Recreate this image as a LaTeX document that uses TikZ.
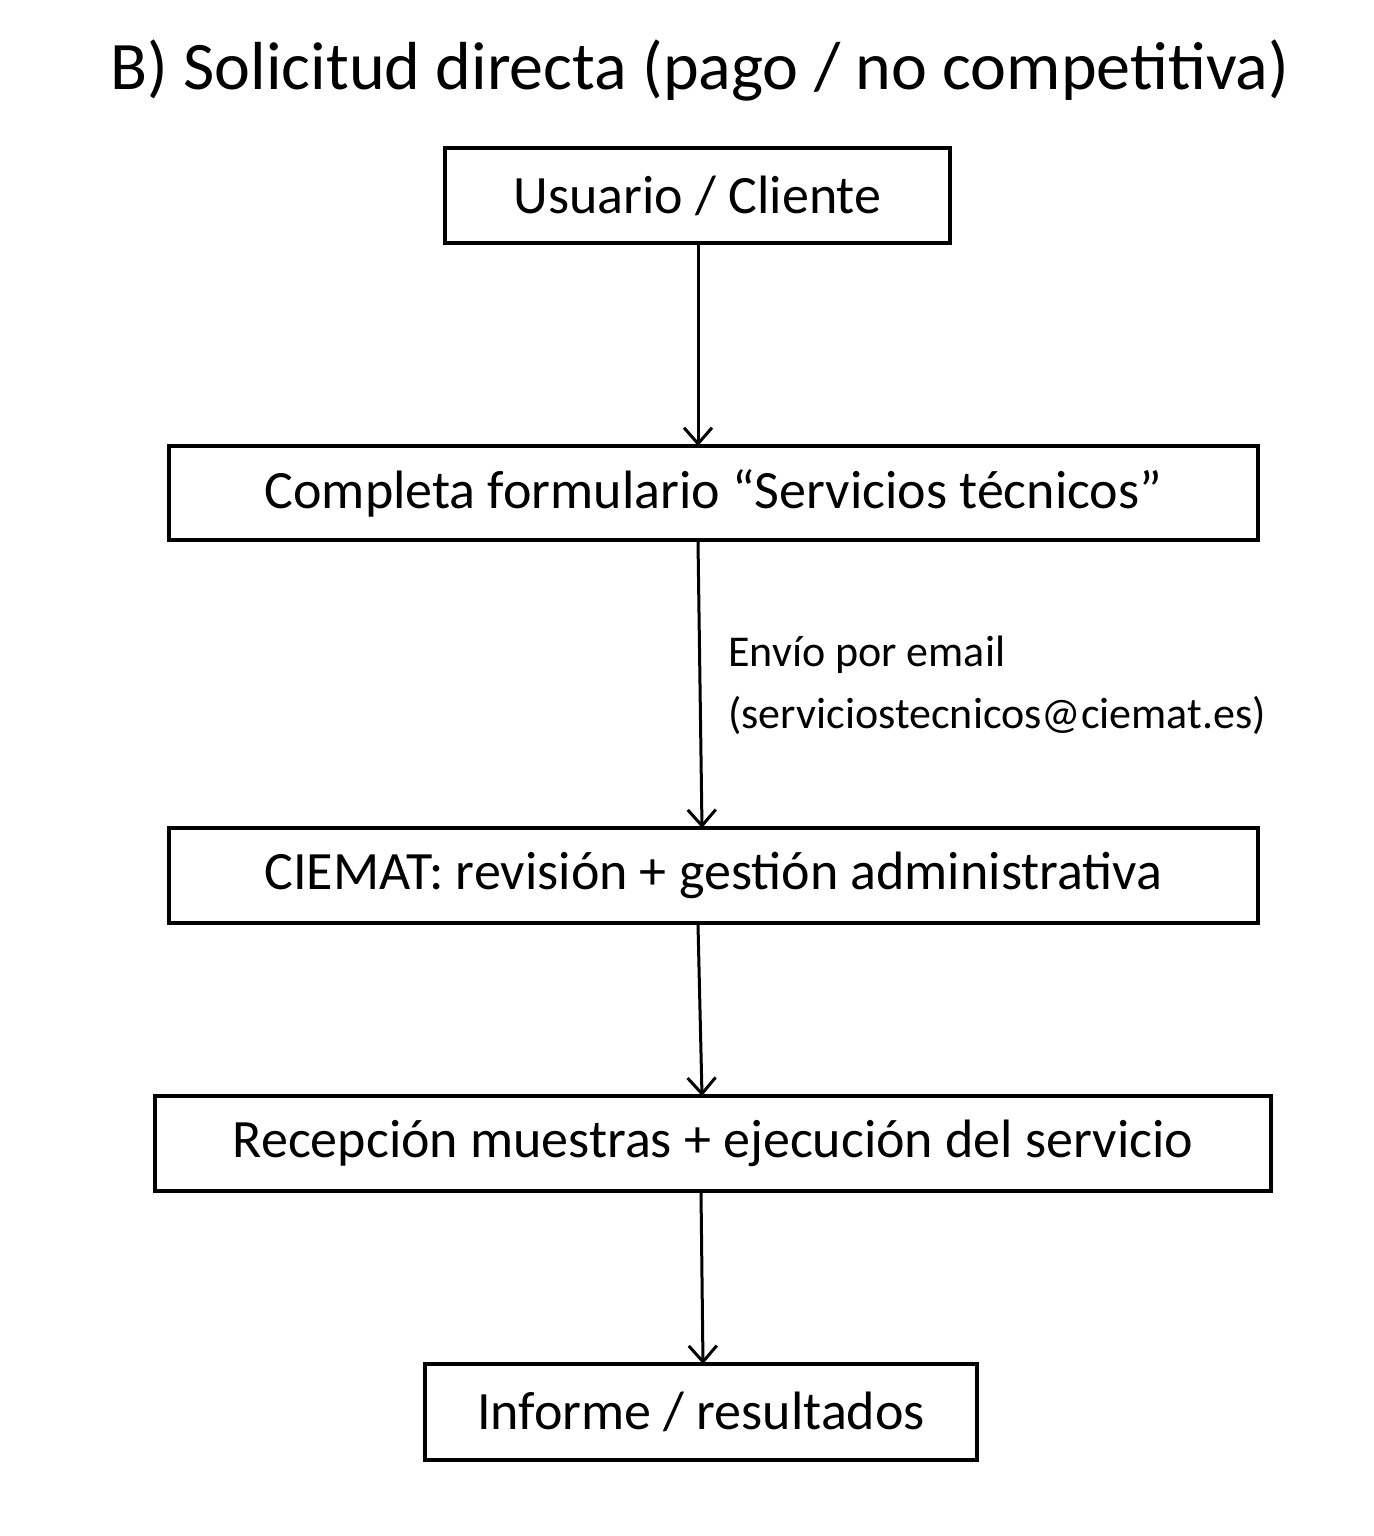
\documentclass[tikz,border=0pt]{standalone}
\usepackage{fontspec}
\setmainfont{Carlito}
\usetikzlibrary{arrows.meta}
\begin{document}
\begin{tikzpicture}[x=0.5pt,y=-0.5pt,
  box/.style={draw,line width=1.6pt,inner sep=0pt,font=\fontsize{27}{30}\selectfont},
  arr/.style={line width=1.5pt,-{Straight Barb[length=8pt,width=14pt,line width=1.5pt]}}]
\useasboundingbox (0,0) rectangle (1373,1536);
\node[font=\fontsize{34}{40}\selectfont] (t) at (700,70) {B) Solicitud directa (pago / no competitiva)};
\node[box,minimum width=252.5pt,minimum height=47.5pt] (b1) at (697.5,195.5) {Usuario / Cliente};
\node[box,minimum width=544.5pt,minimum height=47pt] (b2) at (713.5,493) {Completa formulario “Servicios técnicos”};
\node[box,minimum width=544.5pt,minimum height=47.5pt] (b3) at (713.5,875.5) {CIEMAT: revisión + gestión administrativa};
\node[box,minimum width=558pt,minimum height=47.5pt] (b4) at (713,1143.5) {Recepción muestras + ejecución del servicio};
\node[box,minimum width=276pt,minimum height=48pt] (b5) at (701,1412) {Informe / resultados};
\draw[arr] (b1.south -| 698,0) -- (698,446);
\draw[arr] (b2.south -| 698,0) -- (702,828);
\draw[arr] (b3.south -| 698,0) -- (702,1096);
\draw[arr] (b4.south -| 701,0) -- (703,1364);
\node[anchor=north west,align=left,font=\fontsize{22}{31}\selectfont,inner sep=0pt] (lab) at (728,636) {Envío por email\\(serviciostecnicos@ciemat.es)};
\end{tikzpicture}
\end{document}
